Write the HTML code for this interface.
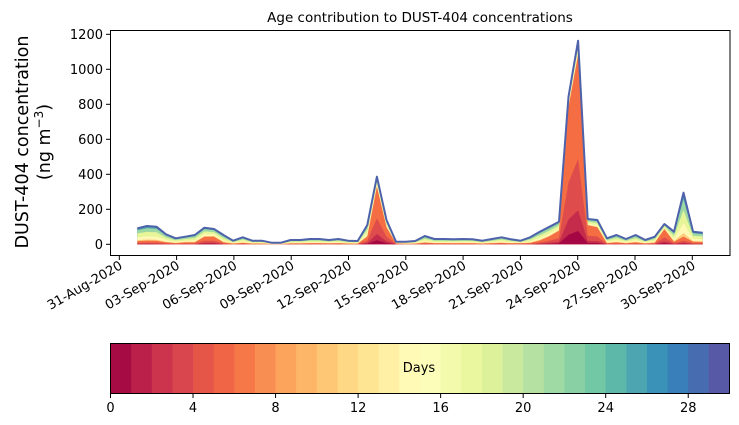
<!DOCTYPE html>
<html><head><meta charset="utf-8"><style>
html,body{margin:0;padding:0;background:#fff;}
svg{display:block;font-family:"DejaVu Sans","Liberation Sans",sans-serif;}
</style></head><body>
<svg id="s" width="739" height="425" viewBox="0 0 739 425" xmlns="http://www.w3.org/2000/svg">
<text x="420" y="22" font-size="13.5" text-anchor="middle">Age contribution to DUST-404 concentrations</text>
<g id="plot"></g>
<rect x="110.5" y="30.5" width="619.5" height="225" fill="none" stroke="#000" stroke-width="1"/>
<g font-size="13" text-anchor="end" id="yt"></g>
<g font-size="13" id="xt"></g>
<text transform="translate(28,142) rotate(-90)" font-size="17.5" text-anchor="middle">DUST-404 concentration</text>
<text transform="translate(50,142) rotate(-90)" font-size="17.5" text-anchor="middle">(ng m<tspan dy="-7" font-size="12">−3</tspan><tspan dy="7">)</tspan></text>
<g id="cb"></g>
<rect x="110.5" y="343.5" width="619" height="50" fill="none" stroke="#000" stroke-width="1"/>
<text x="419" y="372" font-size="13" text-anchor="middle">Days</text>
<g id="cbt" font-size="13" text-anchor="middle"></g>
</svg>
<script>
var NS="http://www.w3.org/2000/svg";
function el(p,t,a,txt){var e=document.createElementNS(NS,t);for(var k in a)e.setAttribute(k,a[k]);if(txt!=null)e.textContent=txt;document.getElementById(p).appendChild(e);return e;}
var Y=[228.3,226,226.7,234.3,238.3,236.7,235,227.7,229,235,240.7,237.3,240.7,240.7,242.7,242.7,240,240,239,239,240,239,240.7,241,225,176.7,220,241.7,241.7,241,
236,239,239,239.3,239,239.3,240.7,239,237.3,239.3,240.7,237.3,231.7,226.7,221.7,96.7,40.7,219,220,238.3,235,239,235,240,236.7,224,231.7,192.7,231.7,232.7];
var base=244.3,n=Y.length;
var X=[];for(var i=0;i<n;i++)X.push(137.3+i*(702.7-137.3)/(n-1));
var warm=[];for(i=0;i<n;i++)warm.push(0.2);
var wset={5:0.25,7:0.45,8:0.5,24:0.4,25:0.85,26:0.7,27:0.35,40:0.3,42:0.3,43:0.45,44:0.6,45:0.93,46:0.93,47:0.75,48:0.7,55:0.75,56:0.2,57:0.15};
for(var k in wset)warm[k]=wset[k];
var stops=["#9e0142","#d53e4f","#f46d43","#fdae61","#fee08b","#ffffbf","#e6f598","#abdda4","#66c2a5","#3288bd","#5e4fa2"];
function hx(c){return [parseInt(c.substr(1,2),16),parseInt(c.substr(3,2),16),parseInt(c.substr(5,2),16)];}
function spec(t){var p=t*10,i=Math.min(9,Math.floor(p)),f=p-i,a=hx(stops[i]),b=hx(stops[i+1]);return "rgb("+a.map(function(v,j){return Math.round(v+(b[j]-v)*f)}).join(",")+")";}
function poly(fr,col){var pts=[];for(var i=0;i<n;i++){var h=base-Y[i];pts.push(X[i].toFixed(1)+","+(base-h*fr(i)).toFixed(1));}
for(i=n-1;i>=0;i--)pts.push(X[i].toFixed(1)+","+base);el("plot","polygon",{points:pts.join(" "),fill:col});}
var L=[
[function(i){return 1},spec(0.97)],
[function(i){return 0.97},spec(0.85)],
[function(i){var w=warm[i];return w+(1-w)*0.85},spec(0.72)],
[function(i){var w=warm[i];return w+(1-w)*0.6},spec(0.6)],
[function(i){var w=warm[i];return w+(1-w)*0.3},spec(0.48)],
[function(i){var w=warm[i];return w+(1-w)*0.08},spec(0.36)],
[function(i){return warm[i]},spec(0.2)],
[function(i){return warm[i]*0.45},spec(0.13)],
[function(i){return warm[i]*0.18},spec(0.07)],
[function(i){return warm[i]*0.07},spec(0.01)]];
L.forEach(function(l){poly(l[0],l[1]);});
var lp=[];for(i=0;i<n;i++)lp.push(X[i].toFixed(1)+","+Y[i]);
el("plot","polyline",{points:lp.join(" "),fill:"none",stroke:"#4e62ab","stroke-width":2,"stroke-linejoin":"round"});
for(var v=0;v<=1200;v+=200){var y=244.3-v*0.175;el("yt","line",{x1:106,x2:110.5,y1:y,y2:y,stroke:"#000"});el("yt","text",{x:103,y:y+4.5},v);}
var labs=["31-Aug-2020","03-Sep-2020","06-Sep-2020","09-Sep-2020","12-Sep-2020","15-Sep-2020","18-Sep-2020","21-Sep-2020","24-Sep-2020","27-Sep-2020","30-Sep-2020"];
for(i=0;i<labs.length;i++){var x=119.3+i*57.3;el("xt","line",{x1:x,x2:x,y1:255.5,y2:260,stroke:"#000"});
el("xt","text",{x:0,y:0,"text-anchor":"end",transform:"translate("+(x+4)+",268) rotate(-30)"},labs[i]);}
var w=619/30;for(i=0;i<30;i++)el("cb","rect",{x:110.5+i*w,y:343.5,width:w+0.5,height:50,fill:spec((i+0.5)/30)});
for(i=0;i<=28;i+=4){var x=110.5+i*w;el("cbt","line",{x1:x,x2:x,y1:393.5,y2:398,stroke:"#000"});el("cbt","text",{x:x,y:412},i);}
</script>
</body></html>
